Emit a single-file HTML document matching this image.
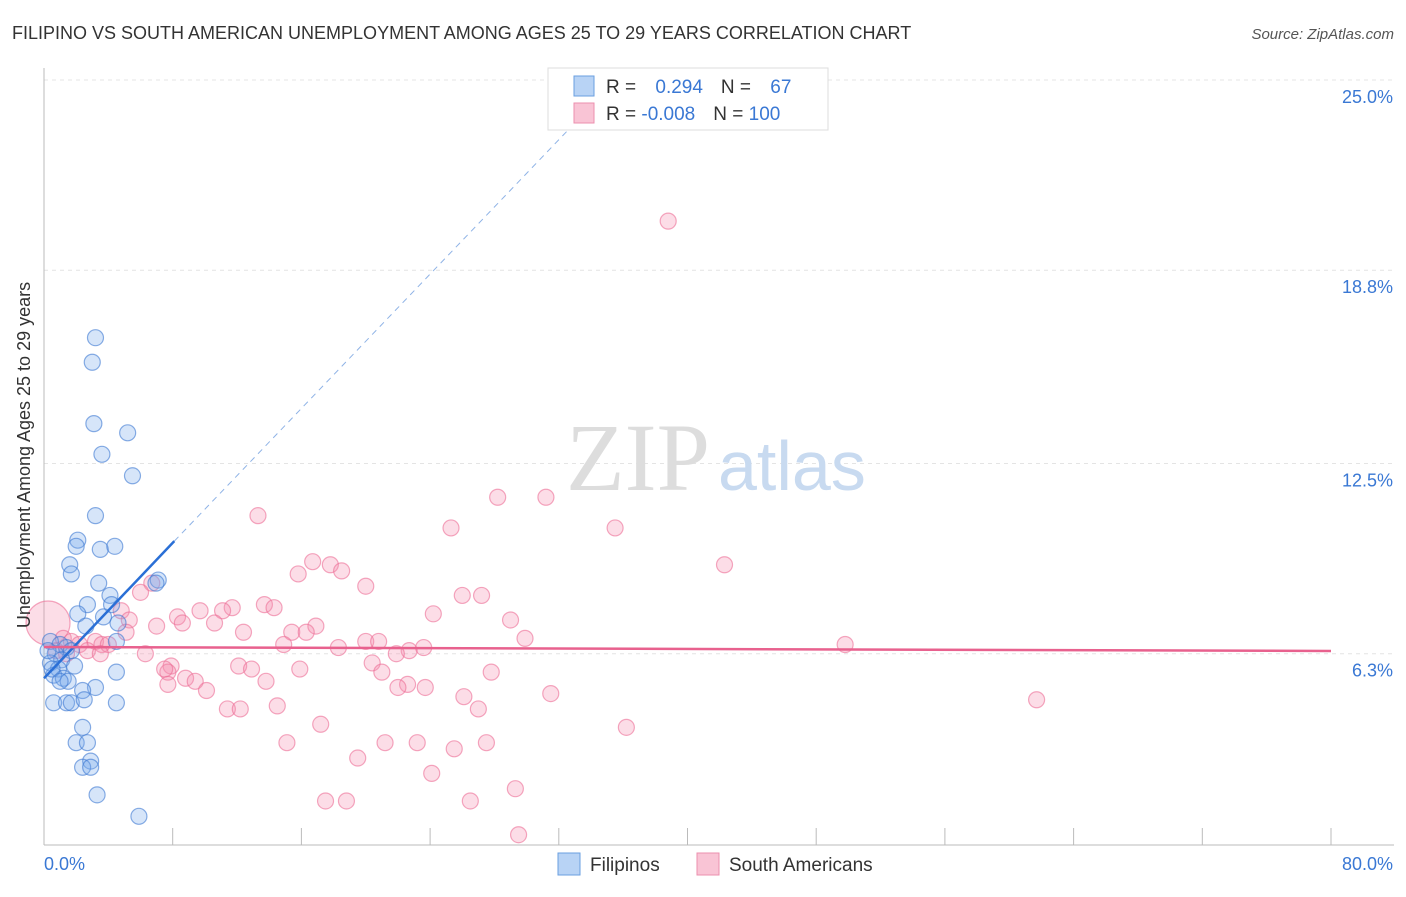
<!DOCTYPE html>
<html><head><meta charset="utf-8"><style>
body{margin:0;background:#fff;font-family:"Liberation Sans",sans-serif;}
</style></head><body>
<svg width="1406" height="892" xmlns="http://www.w3.org/2000/svg" id="chart">
<text x="12" y="39" font-size="18" fill="#333">FILIPINO VS SOUTH AMERICAN UNEMPLOYMENT AMONG AGES 25 TO 29 YEARS CORRELATION CHART</text>
<text x="1394" y="39" font-size="15" fill="#555" font-style="italic" text-anchor="end">Source: ZipAtlas.com</text>
<g id="grid"></g>
<text x="710" y="490" font-size="96" fill="#ddd" text-anchor="end" font-family="Liberation Serif">ZIP</text>
<text x="718" y="490" font-size="70" fill="#c8daf0">atlas</text>
<g id="marks"></g>
<text x="30" y="455" font-size="18" fill="#333" text-anchor="middle" transform="rotate(-90 30 455)">Unemployment Among Ages 25 to 29 years</text>
<g>
<rect x="548" y="68" width="280" height="62" fill="#fff" stroke="#ddd"/>
<rect x="574" y="76" width="20" height="20" fill="#b8d3f5" stroke="#6a9fe0"/>
<rect x="574" y="103" width="20" height="20" fill="#f9c4d5" stroke="#ec8fae"/>
<text x="606" y="93" font-size="19" fill="#333">R = <tspan fill="#3a78d4" dx="14">0.294</tspan><tspan dx="18" fill="#333">N = </tspan><tspan dx="14" fill="#3a78d4">67</tspan></text>
<text x="606" y="120" font-size="19" fill="#333">R = <tspan fill="#3a78d4">-0.008</tspan><tspan dx="18" fill="#333">N = </tspan><tspan fill="#3a78d4">100</tspan></text>
</g>
<g>
<rect x="558" y="853" width="22" height="22" fill="#b8d3f5" stroke="#6a9fe0"/>
<text x="590" y="871" font-size="19" fill="#333">Filipinos</text>
<rect x="697" y="853" width="22" height="22" fill="#f9c4d5" stroke="#ec8fae"/>
<text x="729" y="871" font-size="19" fill="#333">South Americans</text>
</g>
</svg>
<script>
const yTicks=[6.3,12.5,18.8,25.0];
const yTickLabels=["6.3%","12.5%","18.8%","25.0%"];
const xTicks=[0,8,16,24,32,40,48,56,64,72,80];
const blueX=[3.2,3.0,3.1,5.2,3.6,5.5,3.2,2.1,2.0,3.5,4.4,1.6,1.7,3.4,7.1,6.96,4.1,2.7,4.2,2.1,3.7,4.6,2.6,4.5,0.4,1.0,1.4,1.7,0.7,1.1,0.4,1.9,0.9,0.6,1.2,1.5,4.5,3.2,2.4,0.6,1.4,1.7,2.5,4.5,2.4,2.0,2.7,2.9,2.4,2.9,3.3,5.9,0.25,0.5,1.0];
const blueY=[16.6,15.8,13.8,13.5,12.8,12.1,10.8,10.0,9.8,9.7,9.8,9.2,8.9,8.6,8.7,8.6,8.2,7.9,7.9,7.6,7.5,7.3,7.2,6.7,6.7,6.6,6.5,6.4,6.3,6.1,6.0,5.9,5.8,5.6,5.5,5.4,5.7,5.2,5.1,4.7,4.7,4.7,4.8,4.7,3.9,3.4,3.4,2.8,2.6,2.6,1.7,1.0,6.4,5.8,5.4];
const pinkX=[38.8,13.3,28.2,31.2,25.3,35.5,42.3,16.7,17.8,18.5,15.8,20.0,6.7,26.0,27.2,6.0,13.7,14.3,24.2,11.7,11.1,9.7,8.3,4.8,5.3,8.6,10.6,29.0,7.0,16.9,15.4,16.3,12.4,29.9,20.0,20.8,18.3,14.9,22.7,23.6,21.9,49.8,6.3,7.9,12.1,12.9,15.9,20.4,21.0,7.7,7.5,8.8,9.4,7.7,13.8,27.8,22.6,22.0,23.7,10.1,26.1,27.0,31.5,61.7,11.4,12.2,14.5,17.2,36.2,15.1,21.2,23.2,27.5,25.5,19.5,24.1,29.3,17.5,18.8,26.5,29.5,0.25,1.2,1.7,2.2,3.2,3.6,4.0,2.7,3.5,5.1,0.75,1.4];
const pinkY=[20.4,10.8,11.4,11.4,10.4,10.4,9.2,9.3,9.2,9.0,8.9,8.5,8.6,8.2,8.2,8.3,7.9,7.8,7.6,7.8,7.7,7.7,7.5,7.7,7.4,7.3,7.3,7.4,7.2,7.2,7.0,7.0,7.0,6.8,6.7,6.7,6.5,6.6,6.4,6.5,6.3,6.6,6.3,5.9,5.9,5.8,5.8,6.0,5.7,5.7,5.8,5.5,5.4,5.3,5.4,5.7,5.3,5.2,5.2,5.1,4.9,4.5,5.0,4.8,4.5,4.5,4.6,4.0,3.9,3.4,3.4,3.4,3.4,3.2,2.9,2.4,1.9,1.5,1.5,1.5,0.4,7.3,6.8,6.7,6.6,6.7,6.6,6.6,6.4,6.3,7.0,6.4,6.3];
const blueTrend=[[0,5.5],[8.1,9.97]];
const blueDash=[[8.1,9.97],[33,23.6]];
const pinkTrend=[[0,6.52],[80,6.39]];
const NS="http://www.w3.org/2000/svg";
const X=v=>44+v/80*1287;
const Y=v=>847-v*30.68;
function mk(tag,attrs,parent){const e=document.createElementNS(NS,tag);for(const k in attrs)e.setAttribute(k,attrs[k]);parent.appendChild(e);return e;}
const grid=document.getElementById('grid'),marks=document.getElementById('marks');
yTicks.forEach((t,i)=>{
  const l=mk('line',{x1:44,x2:1394,y1:Y(t),y2:Y(t),stroke:'#e4e4e4','stroke-dasharray':'4,4'},grid);
  
  
  const tx=mk('text',{x:1393,y:Y(t)+23,'font-size':18,fill:'#3a78d4','text-anchor':'end'},grid);
  tx.textContent=yTickLabels[i];
  
  
});
const ax=mk('line',{x1:44,x2:44,y1:68,y2:845,stroke:'#bbb'},grid);


const bx=mk('line',{x1:44,x2:1394,y1:845,y2:845,stroke:'#bbb'},grid);


xTicks.forEach(t=>{
  const l=mk('line',{x1:X(t),x2:X(t),y1:828,y2:845,stroke:'#bbb'},grid);
  
  
});
[[0,'0.0%','start',44],[80,'80.0%','end',1393]].forEach(([v,s,a,x])=>{
  const tx=mk('text',{x:x,y:870,'font-size':18,fill:'#3a78d4','text-anchor':a},grid);
  tx.textContent=s;
  
  
});
pinkX.forEach((v,i)=>{
  const c=mk('circle',{cx:X(v),cy:Y(pinkY[i]),r:(i==81?22:8),fill:'rgba(244,143,177,0.3)',stroke:'rgba(236,110,150,0.6)','stroke-width':1.2},marks);
  
  
});
blueX.forEach((v,i)=>{
  const c=mk('circle',{cx:X(v),cy:Y(blueY[i]),r:8,fill:'rgba(120,170,235,0.3)',stroke:'rgba(60,120,210,0.6)','stroke-width':1.2},marks);
  
  
});
const bt=mk('line',{x1:X(blueTrend[0][0]),y1:Y(blueTrend[0][1]),x2:X(blueTrend[1][0]),y2:Y(blueTrend[1][1]),stroke:'#2a6fd6','stroke-width':2.5},marks);


const bd=mk('line',{x1:X(blueDash[0][0]),y1:Y(blueDash[0][1]),x2:X(blueDash[1][0]),y2:Y(blueDash[1][1]),stroke:'#8fb3e6','stroke-width':1,'stroke-dasharray':'6,5'},marks);


const pt=mk('line',{x1:X(pinkTrend[0][0]),y1:Y(pinkTrend[0][1]),x2:X(pinkTrend[1][0]),y2:Y(pinkTrend[1][1]),stroke:'#e8618e','stroke-width':2.5},marks);


</script>
</body></html>
